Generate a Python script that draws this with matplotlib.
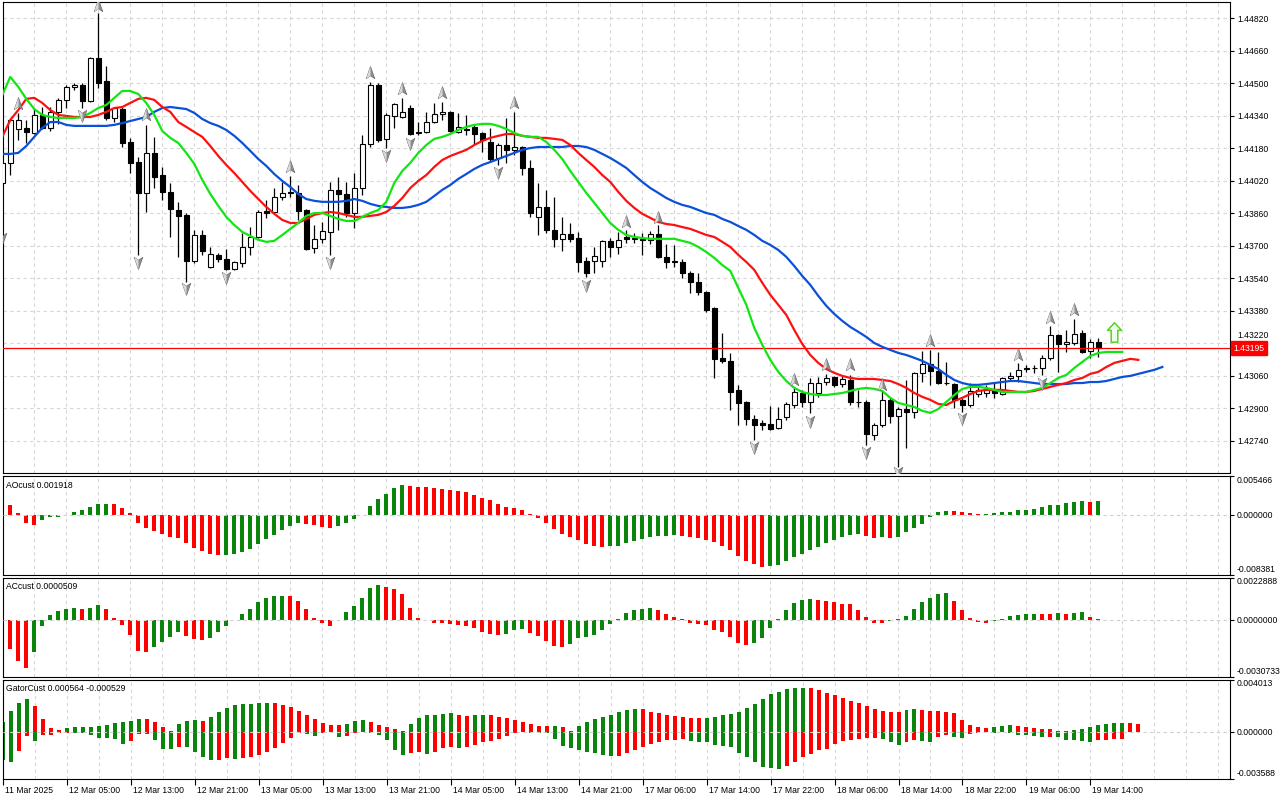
import numpy as np
import matplotlib
matplotlib.use("Agg")
import matplotlib.pyplot as plt
import matplotlib.transforms as mtransforms
from matplotlib.path import Path

plt.rcParams['font.family'] = ['Liberation Sans', 'DejaVu Sans']
plt.rcParams['font.size'] = 6.2

PT = 1e5  # prices and indicator values are kept in points (1e-5)

# --- time axis (one label every 8 H1 bars)
time_labels = ['11 Mar 2025', '12 Mar 05:00', '12 Mar 13:00', '12 Mar 21:00', '13 Mar 05:00',
               '13 Mar 13:00', '13 Mar 21:00', '14 Mar 05:00', '14 Mar 13:00', '14 Mar 21:00',
               '17 Mar 06:00', '17 Mar 14:00', '17 Mar 22:00', '18 Mar 06:00', '18 Mar 14:00',
               '18 Mar 22:00', '19 Mar 06:00', '19 Mar 14:00']
label_step = 8

# --- candles
opens = [144008, 144107, 144274, 144279, 144254, 144343, 144279, 144358, 144417, 144481,
         144491, 144412, 144623, 144510, 144328, 144372, 144210, 144111, 143959, 144156,
         144047, 143964, 143875, 143851, 143624, 143752, 143595, 143654, 143634, 143585,
         143614, 143693, 143742, 143870, 143865, 143939, 143959, 143959, 143875, 143688,
         143733, 143767, 143974, 143954, 143860, 143983, 144200, 144491, 144225, 144338,
         144333, 144377, 144254, 144259, 144308, 144348, 144358, 144259, 144274, 144284,
         144254, 144210, 144131, 144195, 144171, 144185, 144082, 143841, 143890, 143777,
         143733, 143757, 143737, 143624, 143624, 143624, 143723, 143693, 143742, 143733,
         143733, 143728, 143757, 143644, 143624, 143619, 143565, 143521, 143471, 143393,
         143147, 143132, 142989, 142930, 142846, 142826, 142822, 142802, 142856, 142915,
         142974, 142930, 142974, 143028, 143053, 143018, 143038, 142930, 142930, 142767,
         142817, 142940, 142861, 142895, 142881, 143073, 143117, 143083, 143023, 143018,
         142940, 142915, 142969, 142974, 142989, 142969, 143048, 143058, 143097, 143095,
         143097, 143147, 143260, 143215, 143220, 143270, 143181, 143225]
highs = [144171, 144328, 144353, 144318, 144377, 144382, 144382, 144427, 144491, 144500,
         144500, 144628, 144845, 144584, 144382, 144387, 144230, 144136, 144294, 144235,
         144087, 144008, 143915, 143860, 143777, 143777, 143693, 143664, 143683, 143624,
         143762, 143791, 143875, 143924, 143983, 144013, 144043, 143998, 143880, 143801,
         143816, 144013, 144038, 144013, 144057, 144244, 144505, 144500, 144353, 144402,
         144427, 144392, 144308, 144358, 144402, 144407, 144363, 144353, 144343, 144294,
         144259, 144279, 144205, 144328, 144358, 144190, 144121, 144008, 143974, 143939,
         143841, 143811, 143767, 143644, 143693, 143728, 143737, 143767, 143777, 143762,
         143762, 143772, 143801, 143708, 143703, 143634, 143575, 143565, 143476, 143398,
         143270, 143171, 143014, 142935, 142866, 142841, 142910, 142905, 142930, 142999,
         142989, 143048, 143053, 143068, 143058, 143058, 143063, 142989, 142940, 142826,
         142989, 142950, 142905, 143038, 143078, 143181, 143186, 143176, 143127, 143023,
         142950, 143023, 143004, 143014, 143023, 143053, 143078, 143122, 143112, 143112,
         143161, 143304, 143265, 143284, 143339, 143284, 143240, 143245]
lows = [143772, 144047, 144220, 144205, 144249, 144274, 144264, 144299, 144377, 144466,
        144377, 144407, 144476, 144318, 144308, 144185, 144057, 143654, 143865, 143983,
        143924, 143742, 143644, 143521, 143614, 143654, 143590, 143619, 143580, 143580,
        143595, 143654, 143737, 143836, 143860, 143924, 143939, 143826, 143678, 143664,
        143713, 143654, 143777, 143841, 143787, 143949, 144185, 144210, 144180, 144279,
        144328, 144244, 144244, 144254, 144303, 144318, 144259, 144254, 144244, 144195,
        144161, 144111, 144097, 144107, 144146, 144047, 143841, 143752, 143762, 143693,
        143673, 143718, 143570, 143545, 143565, 143595, 143644, 143659, 143713, 143713,
        143654, 143708, 143639, 143590, 143595, 143540, 143466, 143457, 143373, 143048,
        143122, 142891, 142817, 142817, 142743, 142792, 142792, 142797, 142841, 142900,
        142905, 142876, 142955, 143014, 143004, 143004, 142915, 142905, 142718, 142743,
        142807, 142826, 142610, 142704, 142851, 143028, 143014, 143018, 143014, 142900,
        142881, 142905, 142955, 142955, 142950, 142964, 143038, 143028, 143078, 143073,
        143063, 143137, 143078, 143176, 143211, 143171, 143147, 143151]
closes = [144107, 144318, 144318, 144259, 144343, 144279, 144358, 144417, 144481, 144491,
          144412, 144623, 144500, 144328, 144377, 144205, 144107, 143959, 144156, 144038,
          143964, 143880, 143846, 143624, 143752, 143673, 143659, 143634, 143585, 143619,
          143693, 143742, 143865, 143860, 143939, 143959, 143962, 143870, 143683, 143733,
          143772, 143974, 143954, 143860, 143983, 144200, 144491, 144220, 144343, 144397,
          144358, 144249, 144259, 144308, 144348, 144358, 144264, 144284, 144269, 144249,
          144220, 144126, 144195, 144171, 144185, 144082, 143860, 143890, 143777, 143733,
          143757, 143733, 143619, 143565, 143649, 143723, 143693, 143728, 143733, 143735,
          143728, 143757, 143644, 143619, 143621, 143565, 143521, 143471, 143383, 143142,
          143132, 142979, 142925, 142846, 142817, 142817, 142797, 142846, 142920, 142979,
          142930, 143023, 143023, 143048, 143014, 143043, 142930, 142928, 142772, 142817,
          142940, 142861, 142895, 142881, 143073, 143117, 143083, 143023, 143021, 142940,
          142915, 142984, 142989, 142994, 142974, 143048, 143058, 143088, 143092, 143097,
          143147, 143260, 143215, 143225, 143265, 143176, 143225, 143195]

# --- alligator lines (as displayed, already shifted forward)
jaw = [144151, 144151, 144156, 144190, 144235, 144279, 144308, 144308, 144294, 144289,
       144289, 144289, 144289, 144289, 144294, 144303, 144313, 144323, 144333, 144358,
       144377, 144382, 144377, 144372, 144353, 144323, 144303, 144289, 144269, 144240,
       144205, 144166, 144126, 144092, 144052, 144018, 143988, 143954, 143929, 143920,
       143915, 143915, 143915, 143920, 143929, 143920, 143905, 143895, 143890, 143885,
       143885, 143890, 143900, 143915, 143944, 143974, 143998, 144028, 144052, 144077,
       144097, 144111, 144126, 144141, 144156, 144171, 144180, 144185, 144185, 144185,
       144185, 144190, 144190, 144185, 144171, 144151, 144131, 144107, 144082, 144047,
       144013, 143983, 143959, 143934, 143915, 143900, 143890, 143875, 143860, 143851,
       143831, 143816, 143796, 143777, 143752, 143723, 143703, 143678, 143644, 143599,
       143550, 143506, 143452, 143403, 143363, 143329, 143299, 143275, 143250, 143220,
       143201, 143186, 143171, 143161, 143147, 143132, 143112, 143092, 143063, 143038,
       143023, 143014, 143014, 143018, 143023, 143028, 143033, 143033, 143028, 143023,
       143018, 143018, 143018, 143018, 143023, 143023, 143028, 143028, 143033, 143043,
       143053, 143058, 143068, 143078, 143088, 143102]
teeth = [144235, 144318, 144367, 144422, 144427, 144402, 144367, 144343, 144338, 144333,
         144333, 144333, 144343, 144358, 144377, 144382, 144402, 144422, 144427, 144417,
         144382, 144358, 144308, 144284, 144259, 144235, 144190, 144141, 144097, 144057,
         144013, 143969, 143929, 143890, 143856, 143826, 143811, 143811, 143831, 143851,
         143860, 143865, 143860, 143851, 143841, 143841, 143846, 143851, 143865, 143895,
         143934, 143983, 144018, 144047, 144087, 144121, 144141, 144156, 144171, 144195,
         144215, 144230, 144240, 144249, 144249, 144240, 144235, 144230, 144230, 144225,
         144220, 144195, 144156, 144121, 144087, 144047, 144013, 143964, 143920, 143885,
         143856, 143836, 143816, 143806, 143801, 143791, 143782, 143767, 143752, 143742,
         143718, 143693, 143654, 143619, 143580, 143516, 143457, 143408, 143358, 143284,
         143215, 143161, 143122, 143092, 143073, 143058, 143048, 143043, 143043, 143043,
         143038, 143033, 143018, 142999, 142974, 142955, 142940, 142920, 142915, 142935,
         142950, 142969, 142984, 142989, 142989, 142989, 142984, 142979, 142979, 142984,
         142994, 143004, 143014, 143023, 143038, 143048, 143068, 143078, 143102, 143122,
         143132, 143142, 143137]
lips = [144441, 144530, 144481, 144422, 144372, 144343, 144333, 144328, 144328, 144328,
        144333, 144353, 144377, 144392, 144427, 144461, 144461, 144446, 144402, 144343,
        144264, 144230, 144205, 144156, 144102, 144023, 143954, 143895, 143841, 143801,
        143767, 143747, 143728, 143718, 143723, 143752, 143782, 143811, 143846, 143860,
        143860, 143846, 143831, 143821, 143821, 143841, 143860, 143875, 143915, 144008,
        144067, 144107, 144156, 144195, 144225, 144235, 144249, 144269, 144284, 144294,
        144299, 144299, 144289, 144274, 144254, 144240, 144235, 144235, 144210, 144171,
        144126, 144067, 144013, 143959, 143910, 143860, 143811, 143777, 143752, 143742,
        143737, 143733, 143733, 143733, 143733, 143723, 143713, 143693, 143668, 143639,
        143604, 143575, 143491, 143408, 143294, 143211, 143137, 143078, 143033, 142999,
        142979, 142969, 142964, 142964, 142969, 142974, 142984, 142994, 142999, 142994,
        142984, 142950, 142925, 142915, 142905, 142886, 142876, 142895, 142930, 142964,
        142994, 143004, 143004, 142999, 142989, 142979, 142979, 142979, 142979, 142989,
        142999, 143023, 143048, 143063, 143097, 143127, 143156, 143171, 143176, 143176,
        143176]

# --- fractal arrows (bar index, arrow level)
frac_up_idx = [2, 12, 18, 36, 46, 50, 55, 64, 78, 82, 99, 103, 106, 110, 116, 127, 131, 134]
frac_up_lvl = [144397, 144879, 144343, 144087, 144550, 144471, 144451, 144402, 143816, 143836,
               143038, 143112, 143112, 143014, 143230, 143161, 143343, 143383]
frac_dn_idx = [0, 10, 17, 23, 28, 41, 48, 51, 62, 73, 94, 101, 108, 112, 120, 130]
frac_dn_lvl = [143737, 144343, 143619, 143491, 143545, 143619, 144146, 144205, 144062, 143506,
               142708, 142836, 142684, 142585, 142851, 143023]
signal_idx = 139
signal_lvl = 143275

last_price = 143195
price_levels = [142740, 142900, 143060, 143220, 143380, 143540, 143700, 143860, 144020,
                144180, 144340, 144500, 144660, 144820]
price_range = (142580, 144899)

# --- oscillators
ao = [283, 132, 28, -108, -141, -66, -33, -24, 5, 42,
      75, 104, 155, 160, 146, 99, 28, -108, -179, -221,
      -268, -316, -320, -391, -462, -509, -551, -565, -560, -551,
      -518, -476, -405, -344, -283, -212, -151, -118, -122, -141,
      -165, -179, -151, -108, -52, 5, 127, 226, 297, 377,
      424, 410, 396, 391, 377, 363, 349, 339, 320, 283,
      236, 212, 155, 108, 94, 71, 14, -38, -108, -198,
      -264, -311, -353, -405, -438, -447, -443, -433, -400, -367,
      -334, -311, -297, -292, -287, -297, -311, -320, -349, -377,
      -433, -499, -575, -645, -697, -730, -721, -707, -650, -589,
      -551, -490, -447, -396, -353, -311, -283, -273, -297, -320,
      -316, -325, -311, -236, -188, -132, -24, 38, 57, 52,
      38, 28, 14, 19, 28, 38, 47, 66, 75, 89,
      108, 132, 141, 165, 179, 198, 188, 192]
ac = [0, -157, -224, -260, -175, -33, 27, 49, 60, 62,
      58, 66, 82, 56, 11, -27, -82, -169, -175, -147,
      -118, -93, -66, -87, -106, -109, -98, -66, -33, -2,
      33, 58, 98, 118, 126, 131, 129, 104, 56, 7,
      -20, -33, -4, 40, 76, 120, 171, 186, 178, 167,
      137, 66, 11, -4, -15, -20, -25, -27, -33, -44,
      -66, -76, -80, -78, -55, -51, -71, -87, -115, -142,
      -146, -129, -98, -96, -80, -58, -25, 4, 38, 55,
      60, 66, 51, 33, 16, 5, -15, -25, -29, -58,
      -69, -96, -124, -135, -124, -98, -46, 2, 55, 93,
      109, 111, 106, 104, 95, 87, 84, 55, 16, -15,
      -18, -7, 2, 22, 58, 98, 120, 142, 144, 104,
      51, 7, -13, -20, -9, 4, 20, 25, 31, 33,
      31, 29, 35, 33, 36, 40, 16, 5]
gator_up = [72, 162, 221, 252, 198, 98, 28, 13, 29, 36,
            37, 38, 46, 54, 67, 72, 82, 98, 97, 77,
            36, 8, 62, 80, 90, 85, 113, 154, 182, 208,
            211, 216, 221, 224, 221, 206, 190, 159, 129, 98,
            67, 51, 49, 59, 82, 90, 75, 51, 36, 21,
            5, 59, 105, 129, 131, 136, 144, 129, 121, 129,
            131, 129, 113, 105, 90, 75, 59, 44, 41, 44,
            36, 5, 44, 75, 98, 113, 129, 152, 167, 175,
            172, 152, 144, 129, 121, 113, 105, 103, 105, 113,
            129, 136, 152, 182, 213, 252, 290, 306, 329, 337,
            339, 337, 321, 298, 283, 260, 236, 221, 198, 175,
            159, 152, 149, 167, 175, 167, 159, 157, 152, 144,
            90, 51, 36, 28, 36, 44, 51, 46, 39, 28,
            23, 18, 8, 5, 13, 21, 36, 54, 62, 64,
            67, 64, 56]
gator_dn = [-216, -234, -146, -31, -69, -23, -22, -13, -8, -10,
            -11, -23, -49, -50, -57, -93, -69, -15, -14, -62,
            -134, -136, -116, -117, -154, -195, -216, -215, -203, -211,
            -198, -193, -177, -152, -126, -87, -49, -13, -18, -33,
            -13, -5, -41, -36, -13, -5, -13, -26, -64, -141,
            -180, -164, -157, -172, -157, -126, -118, -121, -118, -103,
            -80, -72, -57, -33, -8, -5, -8, -9, -13, -57,
            -111, -126, -141, -157, -164, -180, -188, -185, -164, -141,
            -118, -95, -80, -64, -62, -57, -72, -75, -80, -103,
            -111, -118, -164, -195, -234, -272, -280, -288, -265, -234,
            -195, -172, -141, -134, -95, -72, -64, -57, -49, -48,
            -57, -80, -103, -80, -64, -72, -75, -41, -26, -41,
            -49, -18, -10, -5, -10, -5, -13, -21, -26, -33,
            -41, -39, -44, -64, -67, -72, -80, -64, -62, -57,
            -53]

GREEN = '#0a840a'
RED = '#ff0000'
GRID = dict(color='#d6d6d6', lw=0.8, ls=(0, (3, 3)), zorder=0)

fig = plt.figure(figsize=(12.8, 8), dpi=100)
W, H = 1280, 800


def box(x0, y0, x1, y1):
    return [x0 / W, 1 - y1 / H, (x1 - x0) / W, (y1 - y0) / H]


ax = fig.add_axes(box(3, 2, 1230, 473))
ax_ao = fig.add_axes(box(3, 476, 1230, 574.5))
ax_ac = fig.add_axes(box(3, 577.5, 1230, 676.5))
ax_gt = fig.add_axes(box(3, 679.5, 1230, 778.5))
panels = [ax, ax_ao, ax_ac, ax_gt]

for a in panels:
    a.set_xlim(0.09, 153.46)
    for gx in range(4, 154, 4):
        a.axvline(gx, **GRID)
    for s in a.spines.values():
        s.set_color('black')
        s.set_linewidth(0.8)
    a.yaxis.tick_right()
    a.tick_params(axis='y', direction='out', length=3, width=0.8, pad=2, labelsize=6.2)
    if a is not ax_gt:
        a.tick_params(axis='x', bottom=False, labelbottom=False)

# ---------------- main price chart
o = np.array(opens) / PT
h = np.array(highs) / PT
l = np.array(lows) / PT
c = np.array(closes) / PT
idx = np.arange(len(o))

ax.set_ylim(price_range[0] / PT, price_range[1] / PT)
for lv in price_levels:
    ax.axhline(lv / PT, **GRID)
ax.set_yticks([lv / PT for lv in price_levels])
ax.set_yticklabels(['%.5f' % (lv / PT) for lv in price_levels])
# the level just above the current price sits partly behind the price box; lift it clear
lift = mtransforms.ScaledTranslation(0, 2.0 / 72, fig.dpi_scale_trans)
for lbl, lv in zip(ax.get_yticklabels(), price_levels):
    if 0 < lv - last_price < 60:
        lbl.set_va('bottom')
        lbl.set_transform(lbl.get_transform() + lift)

ax.vlines(idx, l, h, color='black', lw=0.9, zorder=3)
body_bot = np.minimum(o, c)
body_h = np.maximum(np.abs(c - o), 0.6 / PT)
ax.bar(idx, body_h, bottom=body_bot, width=0.56,
       color=np.where(c >= o, 'white', 'black'), edgecolor='black', linewidth=0.8, zorder=4)

ax.axhline(last_price / PT, color='#ff0000', lw=0.9, zorder=4.5)

ax.plot(np.arange(len(jaw)), np.array(jaw) / PT, color='#0b50d8', lw=1.6, zorder=5)
ax.plot(np.arange(len(teeth)), np.array(teeth) / PT, color='#ff1010', lw=1.6, zorder=5)
ax.plot(np.arange(len(lips)), np.array(lips) / PT, color='#12e612', lw=1.6, zorder=5)

MOVE, LINE, CLOSE = Path.MOVETO, Path.LINETO, Path.CLOSEPOLY
up_full = [(0, 1), (0.62, -0.75), (0, -0.32), (-0.62, -0.75), (0, 1)]
up_half = [(0, 1), (0, -0.32), (-0.62, -0.75), (0, 1)]
arrow_up = Path(up_full, [MOVE, LINE, LINE, LINE, CLOSE])
arrow_up_l = Path(up_half, [MOVE, LINE, LINE, CLOSE])
arrow_dn = Path([(x, -y) for x, y in up_full], [MOVE, LINE, LINE, LINE, CLOSE])
arrow_dn_l = Path([(x, -y) for x, y in up_half], [MOVE, LINE, LINE, CLOSE])

for ids, lvls, full, half in [(frac_up_idx, frac_up_lvl, arrow_up, arrow_up_l),
                              (frac_dn_idx, frac_dn_lvl, arrow_dn, arrow_dn_l)]:
    y = np.array(lvls) / PT
    ax.plot(ids, y, ls='none', marker=full, ms=10, mfc='#8e8e8e', mec='#6a6a6a', mew=0.5, zorder=6)
    ax.plot(ids, y, ls='none', marker=half, ms=10, mfc='#dadada', mec='none', zorder=6.1)

block_up = Path([(0, 1), (0.72, 0.22), (0.34, 0.22), (0.34, -1), (-0.34, -1), (-0.34, 0.22),
                 (-0.72, 0.22), (0, 1)], [MOVE] + [LINE] * 6 + [CLOSE])
ax.plot([signal_idx], [signal_lvl / PT], ls='none', marker=block_up, ms=14,
        mfc='#effde9', mec='#5ad02c', mew=1.1, zorder=6)

ax.annotate('%.5f' % (last_price / PT), xy=(1, last_price / PT),
            xycoords=('axes fraction', 'data'), xytext=(2.4, 0), textcoords='offset points',
            ha='left', va='center', color='white', fontsize=6.2, annotation_clip=False,
            bbox=dict(boxstyle='square,pad=0.28', fc='#ff0000', ec='#ff0000'), zorder=10)


# ---------------- oscillator windows
def histogram(a, vals, first_color, absolute=False):
    v = np.array(vals, dtype=float) / PT
    mag = np.abs(v) if absolute else v
    col = np.where(np.diff(mag, prepend=np.nan) > 0, GREEN, RED)
    col[0] = first_color
    a.bar(np.arange(len(v)), v, width=0.5, color=col, zorder=2)


def side_scale(a, lo, hi, fmt, title):
    a.set_ylim(lo, hi)
    a.axhline(0, color='#cfcfcf', lw=0.8, ls=(0, (3, 3)), zorder=3)
    a.set_yticks([lo, 0, hi])
    a.set_yticklabels([fmt % lo, fmt % 0, fmt % hi])
    labs = a.get_yticklabels()
    labs[0].set_va('bottom')
    labs[2].set_va('top')
    a.annotate(title, xy=(0, 1), xycoords='axes fraction', xytext=(2, -3.5),
               textcoords='offset points', ha='left', va='top', fontsize=6.2)


histogram(ax_ao, ao, RED)
side_scale(ax_ao, -0.008381, 0.005466, '%.6f', 'AOcust 0.001918')

histogram(ax_ac, ac, RED)
side_scale(ax_ac, -0.0030733, 0.0022888, '%.7f', 'ACcust 0.0000509')

histogram(ax_gt, gator_up, GREEN)
histogram(ax_gt, gator_dn, GREEN, absolute=True)
side_scale(ax_gt, -0.003588, 0.004013, '%.6f', 'GatorCust 0.000564 -0.000529')

# ---------------- time axis
ax_gt.set_xticks(np.arange(len(time_labels)) * label_step)
ax_gt.set_xticklabels(time_labels, ha='left')
ax_gt.tick_params(axis='x', direction='out', length=4, width=0.8, pad=1.5, labelsize=6.2)
shift = mtransforms.ScaledTranslation(1.5 / 72, 0, fig.dpi_scale_trans)
for lbl in ax_gt.get_xticklabels():
    lbl.set_transform(lbl.get_transform() + shift)

fig.savefig('out.png', dpi=100)
